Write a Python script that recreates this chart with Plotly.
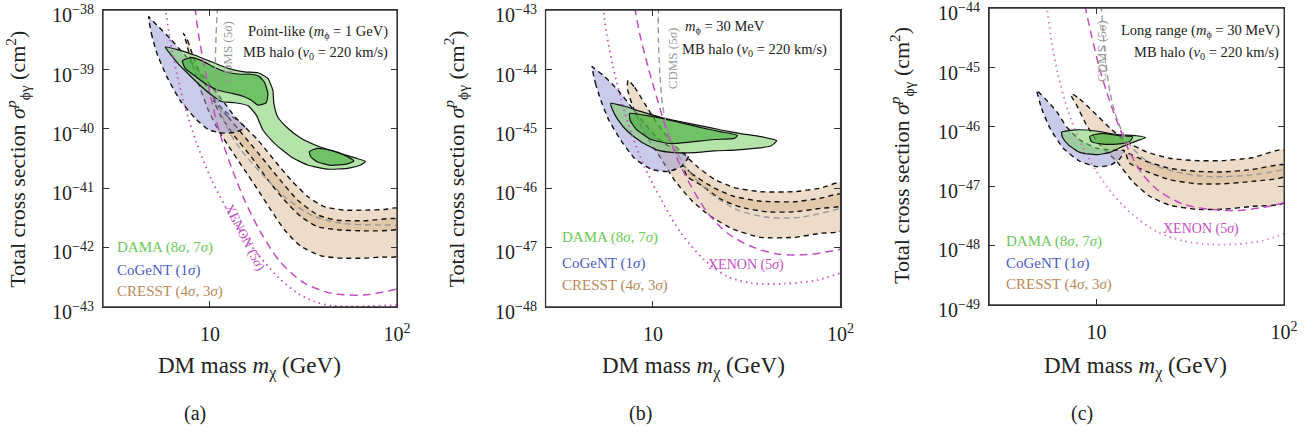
import plotly.graph_objects as go

W, H = 1314, 437
FONT = "Liberation Serif"

# ---------------- data: (mass in GeV, log10 of cross section in cm^2) ----------------
# Panel (a): point-like
DAMA_A8_M = [5.77, 6.79, 8.32, 10.2, 12.5, 15.3, 18.05, 20.4, 21.7, 21.96, 23.05, 26.1, 30.7, 37.6, 48.0, 61.3, 67.9,
             63.8, 54.3, 42.5, 33.3, 27.1, 22.1, 19.2, 17.7, 16.0, 13.6, 11.5, 10.2, 9.03, 7.98, 6.79, 6.0]
DAMA_A8_S = [-38.62, -38.67, -38.76, -38.87, -38.98, -39.04, -39.055, -39.15, -39.35, -39.57, -39.80, -39.99, -40.16,
             -40.29, -40.40, -40.50, -40.55, -40.61, -40.665, -40.68, -40.61, -40.47, -40.24, -40.02, -39.77, -39.61,
             -39.56, -39.54, -39.43, -39.29, -39.13, -38.91, -38.70]
DAMA_A7_M = [7.13, 7.98, 9.03, 10.6, 12.5, 14.7, 16.6, 18.4, 19.6, 20.4, 20.0, 18.05, 16.6, 15.0, 13.0, 11.07, 9.41,
             8.15, 7.37]
DAMA_A7_S = [-38.85, -38.80, -38.85, -38.965, -39.05, -39.08, -39.08, -39.12, -39.22, -39.40, -39.56, -39.60, -39.515,
             -39.45, -39.40, -39.35, -39.235, -39.09, -38.98]
DAMA_A7B_M = [34.0, 37.6, 44.2, 52.1, 58.9, 54.3, 44.2, 37.6, 34.6]
DAMA_A7B_S = [-40.385, -40.33, -40.36, -40.44, -40.54, -40.59, -40.615, -40.56, -40.47]
COGENT_A_M = [4.70, 4.86, 5.21, 5.88, 6.93, 8.32, 9.79, 11.5, 13.6, 15.4, 13.6, 12.0, 10.4, 8.85, 7.36, 6.13, 5.31, 4.80]
COGENT_A_S = [-38.11, -38.39, -38.73, -39.12, -39.52, -39.82, -40.01, -40.07, -40.06, -39.98, -39.80, -39.57, -39.32,
              -39.04, -38.76, -38.48, -38.28, -38.14]
CRESST_A4_M = [7.22, 7.60, 8.15, 8.85, 10.0, 11.8, 14.7, 18.05, 22.1, 27.1, 33.3, 40.8, 52.1, 66.5, 84.9, 100,
               100, 84.9, 66.5, 50.0, 39.2, 30.6, 25.0, 21.2, 18.05, 15.3, 13.0, 11.07, 9.79, 8.67, 7.83, 7.42]
CRESST_A4_S = [-38.39, -38.51, -38.79, -39.07, -39.40, -39.68, -39.91, -40.19, -40.53, -40.86, -41.14, -41.31, -41.37,
               -41.37, -41.36, -41.34, -42.15, -42.16, -42.18, -42.18, -42.14, -41.98, -41.70, -41.37, -41.03, -40.69,
               -40.36, -40.02, -39.68, -39.23, -38.79, -38.51]
CRESST_A3_M = [10.4, 12.5, 15.3, 18.8, 23.0, 29.4, 37.6, 48.0, 66.5, 100,
               100, 66.5, 48.0, 37.6, 30.6, 25.0, 20.4, 16.6, 13.6, 11.5, 10.6]
CRESST_A3_S = [-39.52, -39.80, -40.13, -40.47, -40.81, -41.20, -41.45, -41.54, -41.55, -41.52,
               -41.69, -41.72, -41.70, -41.65, -41.48, -41.20, -40.86, -40.47, -40.13, -39.80, -39.57]
CDMS_A_M = [10.97, 10.8, 10.7, 11.07, 12.25, 14.7, 18.8, 25.0, 34.6, 50.0, 100]
CDMS_A_S = [-37.95, -38.39, -38.95, -39.52, -39.96, -40.36, -40.75, -41.14, -41.45, -41.59, -41.62]
XENON_A_M = [8.32, 8.67, 9.33, 10.2, 11.3, 13.0, 15.3, 18.8, 24.0, 32.0, 44.3, 66.5, 100]
XENON_A_S = [-37.95, -38.39, -38.95, -39.52, -40.08, -40.64, -41.20, -41.76, -42.26, -42.60, -42.77, -42.80, -42.70]
XENON2_A_M = [5.77, 6.13, 6.65, 7.36, 8.49, 10.2, 13.0, 17.3, 23.0, 29.4, 36.1, 44.3, 66.5, 100]
XENON2_A_S = [-37.95, -38.51, -39.07, -39.63, -40.24, -40.86, -41.48, -42.04, -42.49, -42.77, -42.91, -42.98, -42.99,
              -42.97]

# Panel (b): m_phi = 30 MeV
DAMA_B8_M = [5.96, 7.08, 8.68, 11.1, 14.15, 18.1, 23.1, 29.4, 37.6, 45.7, 42.5, 34.7, 27.2, 21.3, 16.6, 13.0, 10.6, 8.68,
             7.37, 6.52, 6.06]
DAMA_B8_S = [-44.57, -44.62, -44.71, -44.81, -44.88, -44.95, -45.02, -45.08, -45.13, -45.20, -45.29, -45.33, -45.36,
             -45.37, -45.40, -45.40, -45.36, -45.22, -45.05, -44.85, -44.66]
DAMA_B7_M = [7.52, 9.80, 13.0, 18.1, 23.1, 28.3, 27.2, 21.3, 16.0, 12.5, 9.80, 8.16, 7.57]
DAMA_B7_S = [-44.74, -44.79, -44.87, -44.98, -45.05, -45.11, -45.16, -45.18, -45.22, -45.25, -45.18, -45.01, -44.86]
COGENT_B_M = [4.74, 4.94, 5.28, 5.82, 6.74, 8.0, 9.80, 12.0, 14.15, 15.5, 13.0, 10.6, 9.03, 7.68, 6.52, 5.54, 4.86]
COGENT_B_S = [-43.95, -44.23, -44.52, -44.85, -45.19, -45.50, -45.68, -45.72, -45.64, -45.46, -45.35, -45.16, -44.91,
              -44.63, -44.35, -44.12, -43.98]
CRESST_B4_M = [7.37, 8.0, 9.03, 10.4, 12.3, 14.4, 17.3, 21.3, 27.2, 37.6, 56.5, 78.3, 100,
               100, 78.3, 56.5, 37.6, 27.2, 20.4, 16.0, 13.0, 10.9, 9.03, 7.83, 7.31]
CRESST_B4_S = [-44.18, -44.30, -44.57, -44.88, -45.19, -45.41, -45.64, -45.85, -45.99, -46.06, -46.06, -46.00, -45.91,
               -46.72, -46.76, -46.83, -46.83, -46.70, -46.48, -46.20, -45.86, -45.47, -45.08, -44.63, -44.32]
CRESST_B3_M = [14.4, 16.0, 21.3, 27.2, 37.6, 56.5, 78.3, 100, 100, 78.3, 56.5, 40.8, 29.4, 23.1, 18.1, 15.3]
CRESST_B3_S = [-45.61, -45.75, -46.00, -46.14, -46.22, -46.23, -46.17, -46.10, -46.30, -46.34, -46.40, -46.40, -46.32,
               -46.19, -45.95, -45.81]
CDMS_B_M = [10.7, 10.7, 10.9, 11.3, 12.5, 15.3, 20.4, 28.3, 40.8, 61.3, 100]
CDMS_B_S = [-42.95, -43.51, -44.07, -44.63, -45.19, -45.69, -46.09, -46.37, -46.49, -46.49, -46.34]
XENON_B_M = [8.0, 8.50, 9.41, 10.6, 12.0, 13.6, 16.0, 19.6, 25.0, 33.3, 46.1, 66.5, 100]
XENON_B_S = [-42.95, -43.39, -43.95, -44.52, -45.08, -45.53, -45.97, -46.42, -46.76, -46.98, -47.11, -47.12, -47.03]
XENON2_B_M = [5.43, 5.66, 6.13, 6.80, 7.68, 9.03, 11.1, 14.15, 18.8, 25.0, 33.3, 50.0, 75.1, 100]
XENON2_B_S = [-42.95, -43.39, -43.95, -44.52, -45.08, -45.64, -46.20, -46.76, -47.21, -47.49, -47.60, -47.61, -47.55,
              -47.43]

# Panel (c): long range
DAMA_C8_M = [6.52, 7.83, 10.0, 12.8, 16.3, 18.3, 16.3, 13.8, 11.8, 10.0, 8.15, 7.07, 6.60]
DAMA_C8_S = [-46.09, -46.05, -46.07, -46.13, -46.15, -46.18, -46.24, -46.33, -46.43, -46.47, -46.43, -46.30, -46.18]
DAMA_C7_M = [9.21, 10.8, 13.3, 15.6, 15.0, 12.8, 10.8, 9.41]
DAMA_C7_S = [-46.16, -46.11, -46.15, -46.17, -46.25, -46.29, -46.29, -46.25]
COGENT_C_M = [4.80, 5.10, 5.65, 6.65, 8.15, 10.0, 11.8, 13.3, 14.1, 12.25, 10.0, 8.15, 6.93, 6.13, 5.31, 4.90]
COGENT_C_S = [-45.38, -45.69, -46.02, -46.36, -46.58, -46.67, -46.65, -46.54, -46.40, -46.39, -46.36, -46.22, -46.0,
              -45.74, -45.52, -45.41]
CRESST_C4_M = [7.37, 8.15, 9.59, 11.8, 14.4, 18.4, 24.5, 34.0, 47.0, 67.9, 100,
               100, 67.9, 47.0, 34.0, 24.5, 19.2, 15.6, 12.8, 10.4, 8.85, 7.83, 7.37]
CRESST_C4_S = [-45.44, -45.53, -45.74, -46.02, -46.25, -46.42, -46.53, -46.57, -46.57, -46.52, -46.39,
               -47.28, -47.34, -47.39, -47.39, -47.32, -47.17, -46.92, -46.58, -46.30, -45.97, -45.63, -45.49]
CRESST_C3_M = [14.4, 18.4, 24.5, 34.0, 47.0, 67.9, 100, 100, 67.9, 47.0, 34.0, 24.5, 18.4, 15.0]
CRESST_C3_S = [-46.44, -46.58, -46.70, -46.75, -46.76, -46.72, -46.64, -46.84, -46.92, -46.96, -46.96, -46.89, -46.75,
               -46.61]
CDMS_C_M = [10.6, 11.07, 11.8, 13.0, 15.0, 19.2, 26.6, 40.0, 67.9, 100]
CDMS_C_S = [-43.95, -44.74, -45.41, -45.91, -46.30, -46.61, -46.76, -46.84, -46.81, -46.72]
XENON_C_M = [8.67, 9.41, 10.4, 11.8, 13.3, 15.0, 17.7, 21.7, 28.8, 40.0, 55.4, 76.7, 100]
XENON_C_S = [-43.95, -44.46, -45.02, -45.58, -46.02, -46.42, -46.81, -47.09, -47.30, -47.39, -47.41, -47.36, -47.28]
XENON2_C_M = [5.43, 5.77, 6.25, 7.07, 8.32, 10.0, 12.25, 15.6, 20.8, 28.8, 40.0, 55.4, 76.7, 100]
XENON2_C_S = [-43.95, -44.57, -45.13, -45.74, -46.30, -46.75, -47.14, -47.48, -47.76, -47.92, -47.98, -47.98, -47.92,
              -47.80]

Y_RANGES = [(-43, -38), (-48, -43), (-49, -44)]
X_RANGE_LOG = (0.428, 2.0)
X_TICKS = [10, 100]
X_TICKTEXT = ["10", "10<sup>2</sup>"]

# ---------------- styles ----------------
C_DAMA_TXT = "#6cc85a"
C_COG_TXT = "#4a5cc4"
C_CRE_TXT = "#b8895c"
C_XEN = "#c24fc2"
C_CDMS = "#9a9a9a"
F_DAMA8 = "rgba(120,205,100,0.55)"
F_DAMA7 = "rgba(55,165,45,0.55)"
F_COG = "rgba(150,150,215,0.5)"
F_CRE = "rgba(214,178,136,0.45)"

fig = go.Figure()


def closed(m, s):
    return list(m) + [m[0]], [10 ** v for v in s] + [10 ** s[0]]


def add_region(m, s, n, fill, dash, width=1.4):
    x, y = closed(m, s)
    fig.add_trace(go.Scatter(x=x, y=y, xaxis=f"x{n}", yaxis=f"y{n}", mode="lines", fill="toself",
                             fillcolor=fill, line=dict(color="#111", width=width, dash=dash, shape="spline",
                                                       smoothing=0.5),
                             hoverinfo="skip", showlegend=False))


def add_line(m, s, n, color, dash, width=1.5):
    fig.add_trace(go.Scatter(x=m, y=[10 ** v for v in s], xaxis=f"x{n}", yaxis=f"y{n}", mode="lines",
                             line=dict(color=color, width=width, dash=dash, shape="spline", smoothing=0.8),
                             hoverinfo="skip", showlegend=False))


panels = [
    dict(cre4=(CRESST_A4_M, CRESST_A4_S), cre3=(CRESST_A3_M, CRESST_A3_S), cog=(COGENT_A_M, COGENT_A_S),
         d8=[(DAMA_A8_M, DAMA_A8_S)], d7=[(DAMA_A7_M, DAMA_A7_S), (DAMA_A7B_M, DAMA_A7B_S)],
         cdms=(CDMS_A_M, CDMS_A_S), xen=(XENON_A_M, XENON_A_S), xen2=(XENON2_A_M, XENON2_A_S)),
    dict(cre4=(CRESST_B4_M, CRESST_B4_S), cre3=(CRESST_B3_M, CRESST_B3_S), cog=(COGENT_B_M, COGENT_B_S),
         d8=[(DAMA_B8_M, DAMA_B8_S)], d7=[(DAMA_B7_M, DAMA_B7_S)],
         cdms=(CDMS_B_M, CDMS_B_S), xen=(XENON_B_M, XENON_B_S), xen2=(XENON2_B_M, XENON2_B_S)),
    dict(cre4=(CRESST_C4_M, CRESST_C4_S), cre3=(CRESST_C3_M, CRESST_C3_S), cog=(COGENT_C_M, COGENT_C_S),
         d8=[(DAMA_C8_M, DAMA_C8_S)], d7=[(DAMA_C7_M, DAMA_C7_S)],
         cdms=(CDMS_C_M, CDMS_C_S), xen=(XENON_C_M, XENON_C_S), xen2=(XENON2_C_M, XENON2_C_S)),
]

for i, p in enumerate(panels):
    n = i + 1
    add_region(*p["cre4"], n, F_CRE, "5px,4px")
    add_region(*p["cre3"], n, F_CRE, "5px,4px")
    add_region(*p["cog"], n, F_COG, "5px,4px")
    for d in p["d8"]:
        add_region(*d, n, F_DAMA8, "solid", 1.2)
    for d in p["d7"]:
        add_region(*d, n, F_DAMA7, "solid", 1.2)
    add_line(*p["cdms"], n, C_CDMS, "6px,4px", 1.4)
    add_line(*p["xen"], n, C_XEN, "8px,5px", 1.5)
    dot_col = C_XEN if n < 3 else "rgba(200,90,180,0.8)"
    add_line(*p["xen2"], n, dot_col, "1.5px,4px", 1.8)

# ---------------- axes ----------------
x_domains = [(104, 401), (551, 849), (999, 1297)]
y_domains = [(10, 307), (10, 307), (8, 305)]
X_MINOR = [k * 10.0 ** e for e in (0, 1) for k in range(2, 10)]
layout = {}
anns = []
shapes = []

for i in range(3):
    n = i + 1
    key = "" if n == 1 else str(n)
    mkey = str(n + 3)
    lo, hi = Y_RANGES[i]
    xr = [X_RANGE_LOG[0], X_RANGE_LOG[1] + 0.0005]
    yr = [lo - 0.003, hi + 0.003]
    yvals = [10.0 ** e for e in range(lo, hi + 1)]
    y_minor = [k * 10.0 ** e for e in range(lo, hi) for k in range(2, 10)]
    common = dict(type="log", showgrid=False, zeroline=False, showline=True, linecolor="#333", linewidth=1.3,
                  mirror="allticks", ticks="inside", ticklen=6, tickwidth=1, tickcolor="#333", tickmode="array",
                  tickfont=dict(family=FONT, size=20, color="#222"))
    layout["xaxis" + key] = dict(common, domain=[x_domains[i][0] / W, x_domains[i][1] / W],
                                 anchor="y" + key if key else "y", range=xr, tickvals=X_TICKS,
                                 ticktext=X_TICKTEXT, ticklabelstandoff=9)
    layout["yaxis" + key] = dict(common, domain=[1 - y_domains[i][1] / H, 1 - y_domains[i][0] / H],
                                 anchor="x" + key if key else "x", range=yr, tickvals=yvals,
                                 showticklabels=False)
    # minor tick marks drawn by overlay axes
    minor_common = dict(type="log", showgrid=False, zeroline=False, showline=False, mirror="allticks",
                        ticks="inside", ticklen=3.5, tickwidth=1, tickcolor="#444", showticklabels=False,
                        tickmode="array")
    layout["xaxis" + mkey] = dict(minor_common, overlaying="x" + key if key else "x",
                                  anchor="y" + key if key else "y", range=xr, tickvals=X_MINOR)
    layout["yaxis" + mkey] = dict(minor_common, overlaying="y" + key if key else "y",
                                  anchor="x" + key if key else "x", range=yr, tickvals=y_minor)
    # frame around the plotting area
    xk = "x" + key if key else "x"
    yk = "y" + key if key else "y"
    shapes.append(dict(type="rect", xref=f"{xk} domain", yref=f"{yk} domain", x0=0, x1=1, y0=0, y1=1,
                       line=dict(color="#333", width=1.3), fillcolor="rgba(0,0,0,0)", layer="above"))
    # y tick labels (placed on the y scale, left of the frame)
    for e in range(lo, hi + 1):
        anns.append(dict(text=f"10<sup>\u2212{abs(e)}</sup>", x=(x_domains[i][0] - 7) / W, xref="paper",
                         y=e, yref=yk, showarrow=False, xanchor="right",
                         yanchor="middle", yshift=-4, font=dict(family=FONT, size=20, color="#222")))


def ann(text, px, py, size=14, color="#222", xanchor="center", angle=0):
    anns.append(dict(text=text, x=px / W, y=1 - py / H, xref="paper", yref="paper", showarrow=False,
                     xanchor=xanchor, yanchor="middle", textangle=angle,
                     font=dict(family=FONT, size=size, color=color)))


ytitle = "Total cross section <i>\u03c3</i><sup><i>p</i></sup><sub>\u03d5\u03b3</sub> (cm<sup>2</sup>)"
xtitle = "DM mass <i>m</i><sub>\u03c7</sub> (GeV)"
halo = "MB halo (<i>v</i><sub>0</sub> = 220 km/s)"

# panel a
ann(ytitle, 17, 159, 22, angle=-90)
ann(xtitle, 252, 367, 23)
ann("(a)", 197, 413, 20)
ann("Point-like (<i>m</i><sub>\u03d5</sub> = 1 GeV)", 394, 32, 14.5, xanchor="right")
ann(halo, 394, 53, 14.5, xanchor="right")
ann("CDMS (5<i>\u03c3</i>)", 229, 52, 13, C_CDMS, angle=-90)
ann("XENON (5<i>\u03c3</i>)", 248, 237, 13.5, C_XEN, angle=63)
ann("DAMA (8<i>\u03c3</i>, 7<i>\u03c3</i>)", 116, 248, 15, C_DAMA_TXT, "left")
ann("CoGeNT (1<i>\u03c3</i>)", 116, 270, 15, C_COG_TXT, "left")
ann("CRESST (4<i>\u03c3</i>, 3<i>\u03c3</i>)", 116, 291, 15, C_CRE_TXT, "left")

# panel b
ann(ytitle, 460, 159, 22, angle=-90)
ann(xtitle, 700, 367, 23)
ann("(b)", 647, 413, 20)
ann("<i>m</i><sub>\u03d5</sub> = 30 MeV", 690, 27, 14.5, xanchor="left")
ann(halo, 687, 50, 14.5, xanchor="left")
ann("CDMS (5<i>\u03c3</i>)", 679, 58, 13, C_CDMS, angle=-90)
ann("XENON (5<i>\u03c3</i>)", 753, 265, 14, C_XEN)
ann("DAMA (8<i>\u03c3</i>, 7<i>\u03c3</i>)", 566, 237, 15, C_DAMA_TXT, "left")
ann("CoGeNT (1<i>\u03c3</i>)", 566, 263, 15, C_COG_TXT, "left")
ann("CRESST (4<i>\u03c3</i>, 3<i>\u03c3</i>)", 566, 285, 15, C_CRE_TXT, "left")

# panel c
ann(ytitle, 910, 155, 22, angle=-90)
ann(xtitle, 1147, 367, 23)
ann("(c)", 1093, 413, 20)
ann("Long range (<i>m</i><sub>\u03d5</sub> = 30 MeV)", 1295, 31, 14.5, xanchor="right")
ann(halo, 1294, 53, 14.5, xanchor="right")
ann("CDMS (5<i>\u03c3</i>)", 1113, 51, 13, C_CDMS, angle=-90)
ann("XENON (5<i>\u03c3</i>)", 1213, 229, 14, C_XEN)
ann("DAMA (8<i>\u03c3</i>, 7<i>\u03c3</i>)", 1014, 241, 15, C_DAMA_TXT, "left")
ann("CoGeNT (1<i>\u03c3</i>)", 1014, 263, 15, C_COG_TXT, "left")
ann("CRESST (4<i>\u03c3</i>, 3<i>\u03c3</i>)", 1014, 284, 15, C_CRE_TXT, "left")

fig.update_layout(**layout)
fig.update_layout(width=W, height=H, margin=dict(l=0, r=0, t=0, b=0), paper_bgcolor="white",
                  plot_bgcolor="white", showlegend=False, annotations=anns, shapes=shapes,
                  font=dict(family=FONT, color="#222"))

fig.write_html("out.html")
